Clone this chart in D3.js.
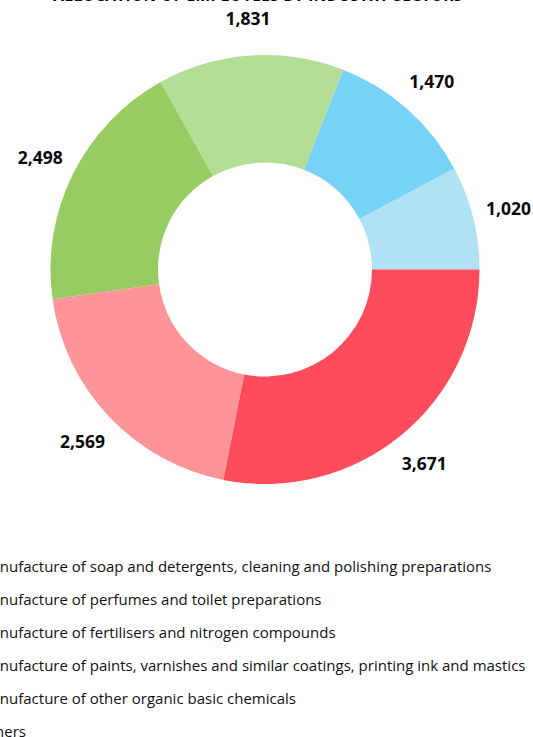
<!DOCTYPE html>
<html>
<head>
<meta charset="utf-8">
<script src="https://cdn.jsdelivr.net/npm/d3@7"></script>
<style>
    body { margin: 0; background: #fff; overflow: hidden; }
    svg { display: block; font-family: "Open Sans", sans-serif; }
</style>
</head>
<body>
<script>
// employees per sector, legend order
var sectors = [
    "Manufacture of soap and detergents, cleaning and polishing preparations",
    "Manufacture of perfumes and toilet preparations",
    "Manufacture of fertilisers and nitrogen compounds",
    "Manufacture of paints, varnishes and similar coatings, printing ink and mastics",
    "Manufacture of other organic basic chemicals",
    "Others"
];
var employees = [1020, 1470, 1831, 2498, 2569, 3671];
var colors = ["#afe3f3", "#76d3f6", "#b2de96", "#97cc62", "#fd9598", "#fd4c5c"];
var title = "ALLOCATION OF EMPLOYEES BY INDUSTRY SECTORS";

var width = 533, height = 737;
var cx = 265, cy = 269.5;
var outerR = 214.5, innerR = 107, labelR = 251;

var svg = d3.select("body")
    .append("svg")
    .attr("width", width)
    .attr("height", height);

svg.append("text")
    .attr("x", 258)
    .attr("y", 1)
    .attr("text-anchor", "middle")
    .attr("font-size", 15.5)
    .attr("font-weight", "bold")
    .attr("letter-spacing", 0.3)
    .text(title);

var data = employees.map(function(v, i) { return { name: sectors[i], value: v, color: colors[i] }; });

// slices run counter-clockwise from 3 o'clock
var pie = d3.pie()
    .sort(null)
    .value(function(d) { return d.value; })
    .startAngle(Math.PI / 2)
    .endAngle(Math.PI / 2 - 2 * Math.PI);

var arc = d3.arc().innerRadius(innerR).outerRadius(outerR);
var labelArc = d3.arc().innerRadius(labelR).outerRadius(labelR);

var g = svg.append("g").attr("transform", "translate(" + cx + "," + cy + ")");

var slices = pie(data);

g.selectAll("path")
    .data(slices)
    .enter()
    .append("path")
    .attr("fill", function(d) { return d.data.color; })
    .attr("d", arc);

var fmt = d3.format(",");

g.selectAll(".lbl")
    .data(slices)
    .enter()
    .append("text")
    .classed("lbl", true)
    .attr("transform", function(d) { return "translate(" + labelArc.centroid(d) + ")"; })
    .attr("text-anchor", "middle")
    .attr("dy", "0.35em")
    .attr("font-size", 17.5)
    .attr("font-weight", "bold")
    .attr("fill", "#0a0a0a")
    .text(function(d) { return fmt(d.data.value); });

// legend, starts left of the visible area
var legend = svg.append("g").attr("transform", "translate(-22,0)");

var rows = legend.selectAll(".row")
    .data(data)
    .enter()
    .append("g")
    .classed("row", true)
    .attr("transform", function(d, i) { return "translate(0," + (572 + i * 33) + ")"; });

rows.append("rect")
    .attr("x", -24)
    .attr("y", -11)
    .attr("width", 14)
    .attr("height", 14)
    .attr("fill", function(d) { return d.color; });

rows.append("text")
    .attr("x", 0)
    .attr("y", 0)
    .attr("font-size", 15)
    .attr("fill", "#111")
    .text(function(d) { return d.name; });
</script>
</body>
</html>
